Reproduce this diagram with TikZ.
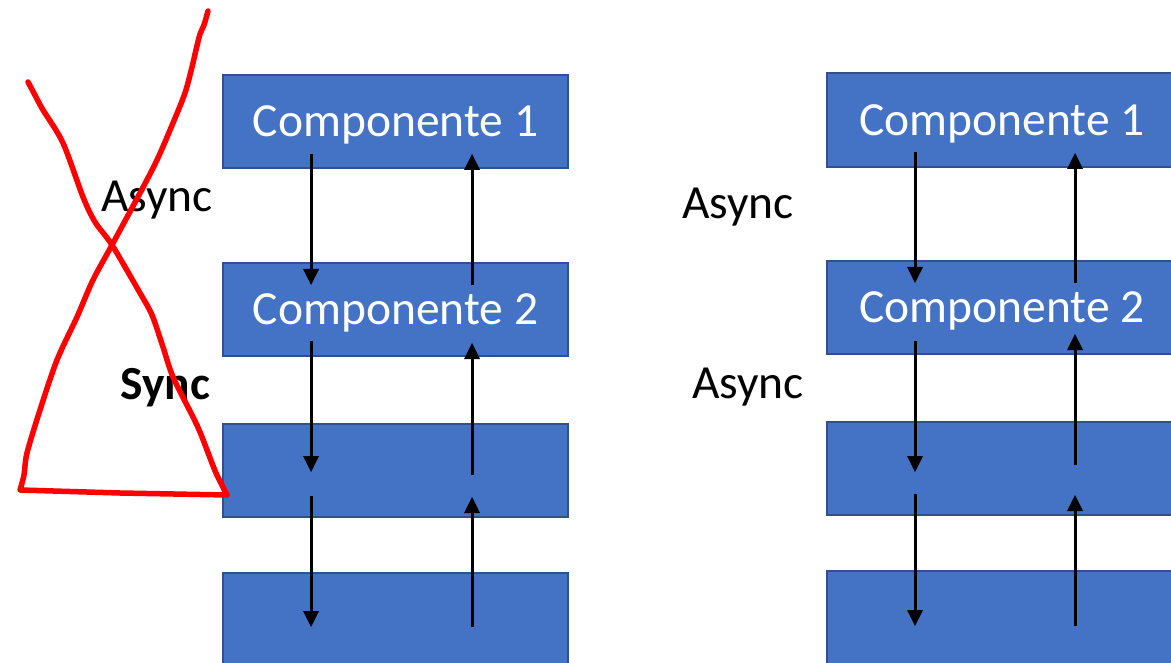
\documentclass[tikz,border=0pt]{standalone}
\usepackage{fontspec}
\setmainfont{Carlito}
\usetikzlibrary{arrows.meta}
\definecolor{boxfill}{HTML}{4472C4}
\definecolor{boxline}{HTML}{2F528F}
\definecolor{inkred}{HTML}{FF0000}
\begin{document}
\begin{tikzpicture}[x=1pt,y=-1pt,
  comp/.style={rectangle, fill=boxfill, draw=boxline, line width=2pt, anchor=north west,
    minimum width=345pt, inner sep=0pt, text=white, text depth=0pt,
    font=\fontsize{47.5}{57}\selectfont},
  lbl/.style={anchor=base west, inner sep=0pt, font=\fontsize{47.5}{57}\selectfont},
  arr/.style={line width=3pt, -{Triangle[width=16pt,length=16pt,line width=0pt,fill=black]}},
  ink/.style={inkred, line width=5.5pt, line cap=round, line join=round}]
\useasboundingbox (0,0) rectangle (1171,663);
% left column
\node[comp, minimum height=93pt] (L1) at (222,74) {Componente 1};
\node[comp, minimum height=93pt] (L2) at (222,262) {Componente 2};
\node[comp, minimum height=93pt] (L3) at (222,423) {};
\node[comp, minimum height=100pt] (L4) at (222,572) {};
% right column
\node[comp, minimum height=94pt, minimum width=350pt] (R1) at (826,72) {Componente 1};
\node[comp, minimum height=93pt, minimum width=350pt] (R2) at (826,260) {Componente 2};
\node[comp, minimum height=93pt, minimum width=350pt] (R3) at (826,421) {};
\node[comp, minimum height=100pt, minimum width=350pt] (R4) at (826,570) {};
% labels
\node[lbl] (la1) at (101,212) {Async};
\node[lbl] (ls) at (120,399) {\bfseries Sync};
\node[lbl] (ra1) at (682,219) {Async};
\node[lbl] (ra2) at (692,398) {Async};
% arrow end points (left)
\coordinate (ld1s) at (311,154); \coordinate (ld1e) at (311,285);
\coordinate (lu1s) at (472,285); \coordinate (lu1e) at (472,154);
\coordinate (ld2s) at (311,341); \coordinate (ld2e) at (311,472);
\coordinate (lu2s) at (472,475); \coordinate (lu2e) at (472,343);
\coordinate (ld3s) at (311,496); \coordinate (ld3e) at (311,627);
\coordinate (lu3s) at (472,627); \coordinate (lu3e) at (472,497);
% arrow end points (right)
\coordinate (rd1s) at (915,152); \coordinate (rd1e) at (915,283);
\coordinate (ru1s) at (1075,283); \coordinate (ru1e) at (1075,153);
\coordinate (rd2s) at (915,341); \coordinate (rd2e) at (915,472);
\coordinate (ru2s) at (1075,465); \coordinate (ru2e) at (1075,334);
\coordinate (rd3s) at (915,494); \coordinate (rd3e) at (915,626);
\coordinate (ru3s) at (1075,626); \coordinate (ru3e) at (1075,495);
\foreach \a in {ld1,lu1,ld2,lu2,ld3,lu3,rd1,ru1,rd2,ru2,rd3,ru3}
  \draw[arr] (\a s) -- (\a e);
% red cross-out
\draw[ink] plot[smooth, tension=0.5] coordinates {(208,11) (204,25) (200,34) (196,50) (192,67) (185,93) (173,123) (157,160) (140,193) (112,245) (93,280) (77,317) (57,360) (40,410) (27,453) (24,475) (20,490)}
  -- (120,493) -- (227,495);
\draw[ink] plot[smooth, tension=0.5] coordinates {(28,82) (36,97) (43,110) (63,143) (83,197) (95,222) (112,245) (140,293) (152,315) (163,347) (173,377) (193,417) (200,432) (207,450) (216,473) (227,495)};
\end{tikzpicture}
\end{document}
